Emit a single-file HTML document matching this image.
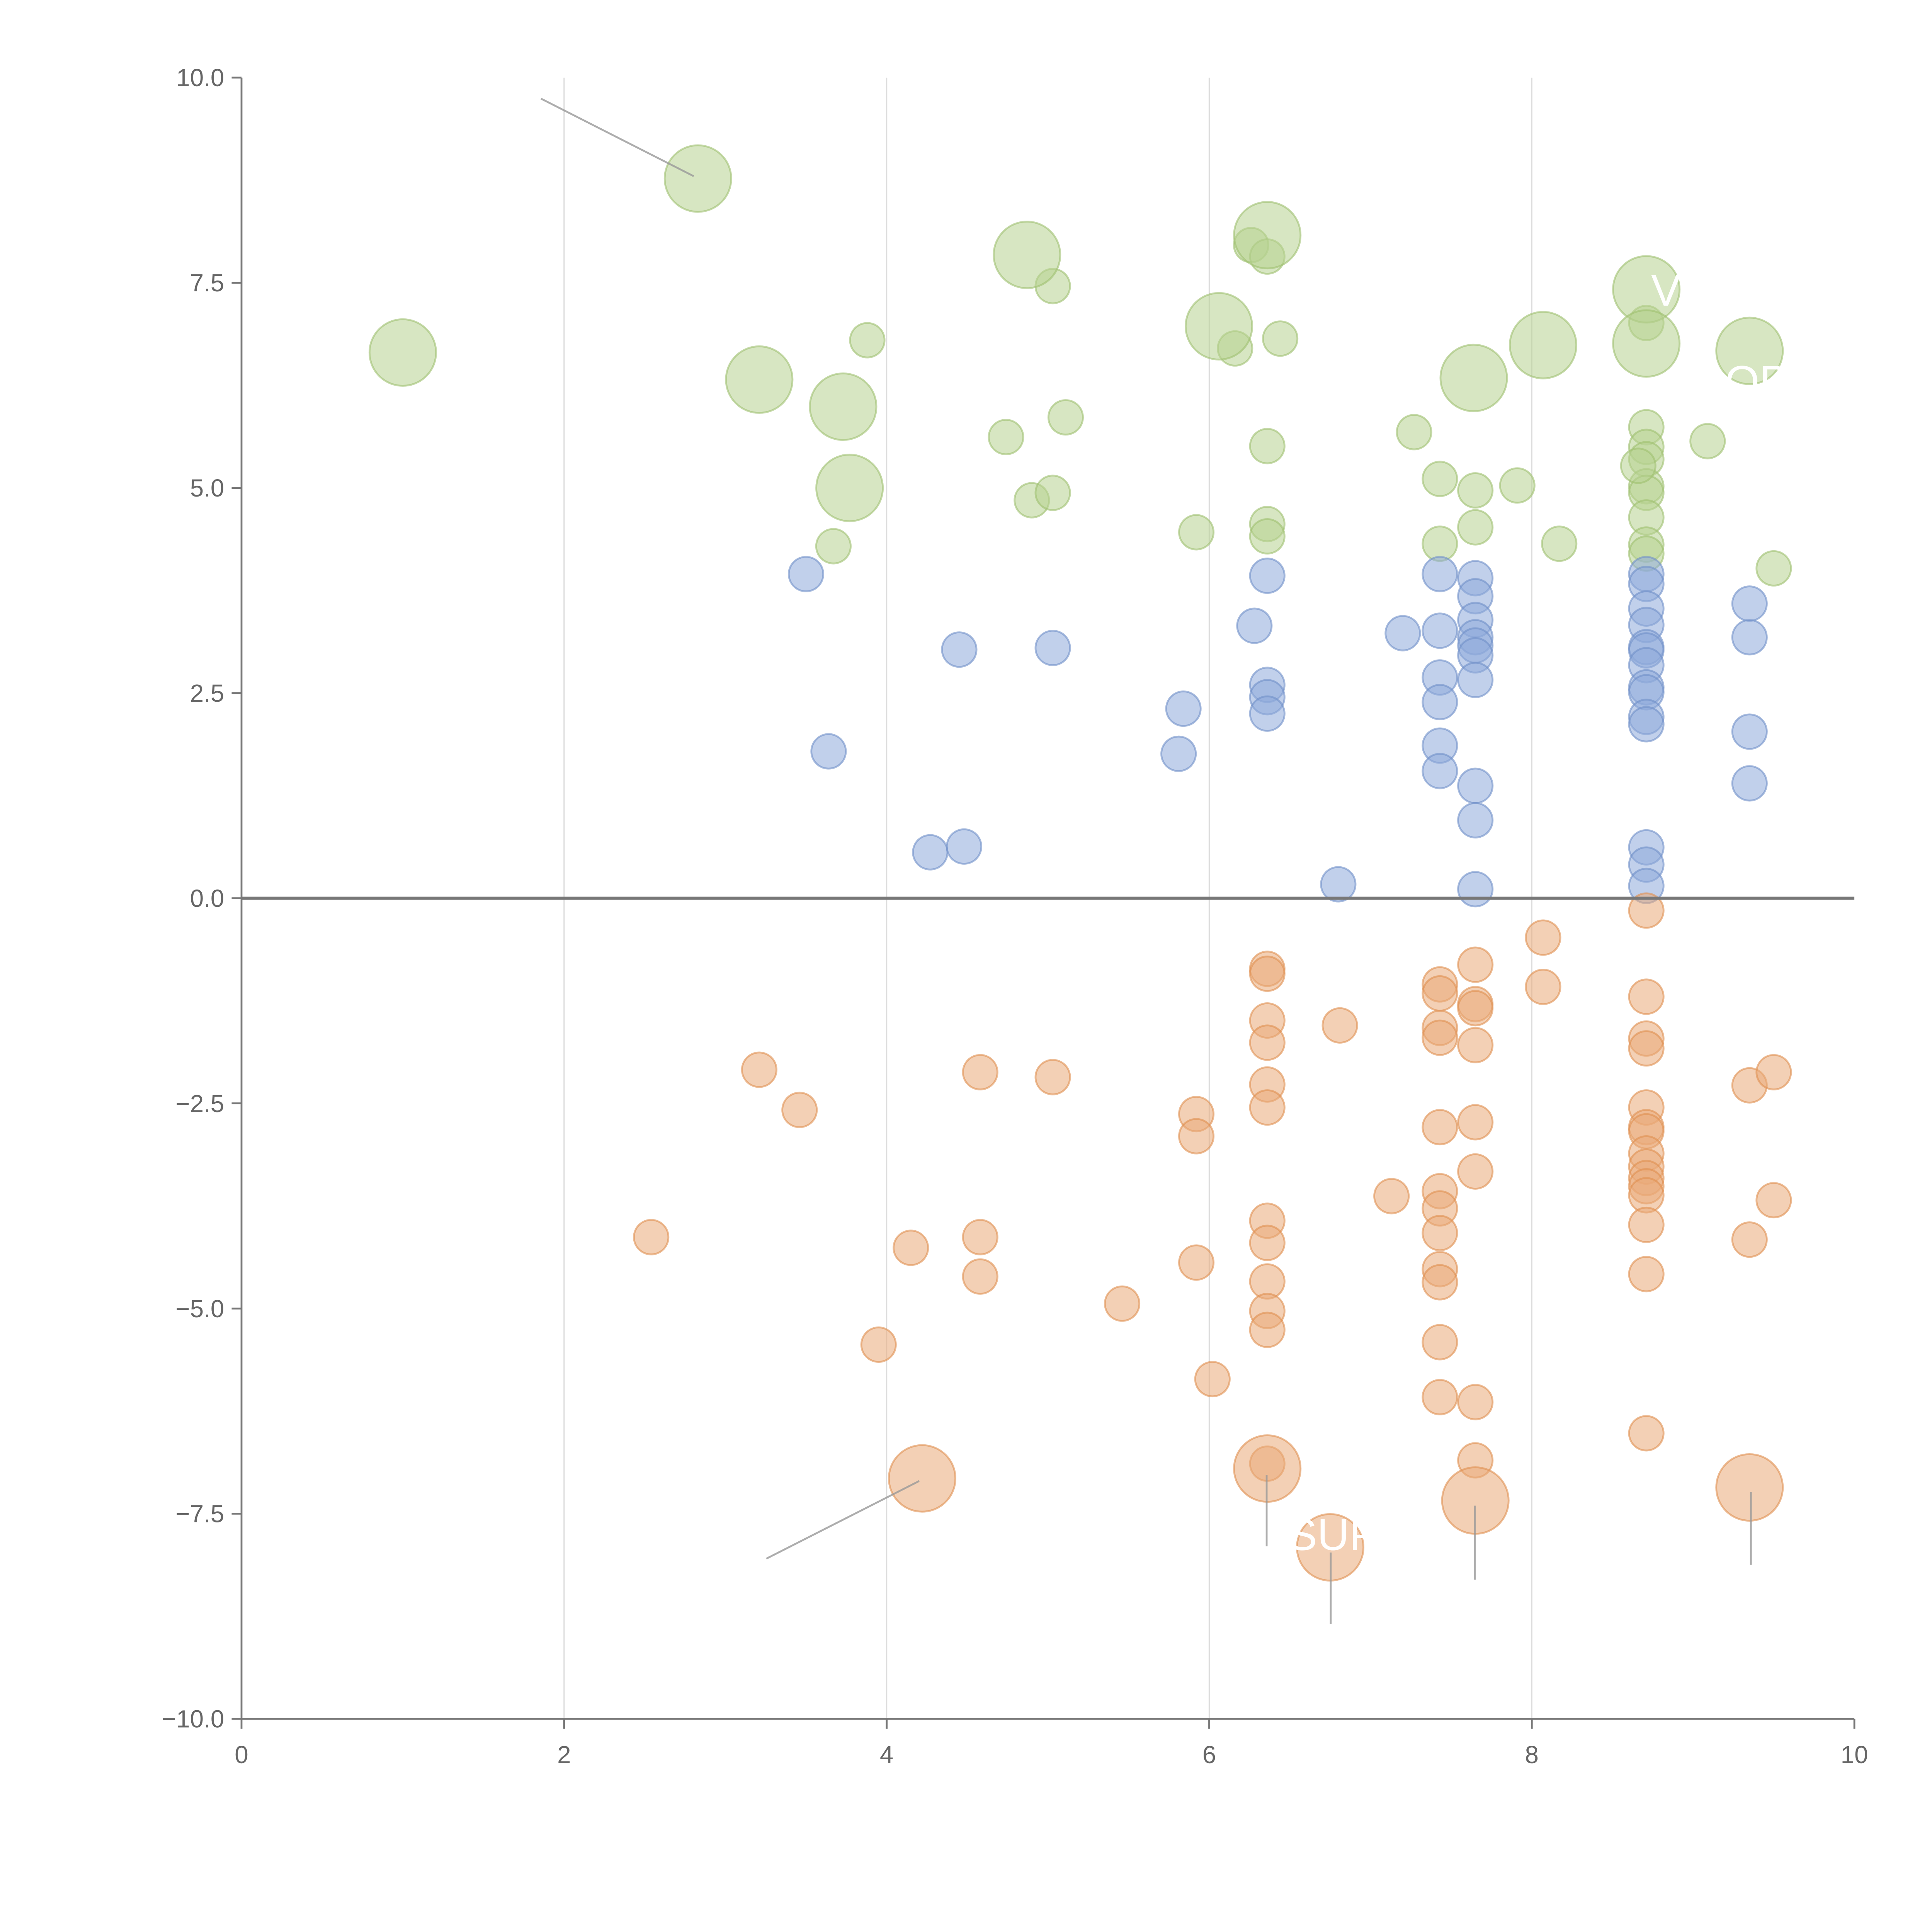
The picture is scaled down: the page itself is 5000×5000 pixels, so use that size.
<!DOCTYPE html>
<html><head><meta charset="utf-8"><style>
html,body{margin:0;padding:0;background:#fff;}
svg{display:block;font-family:"Liberation Sans",Arial,sans-serif;}
</style></head><body>
<svg id="chart" width="5000" height="5000" viewBox="0 0 1568 1568" xmlns="http://www.w3.org/2000/svg">
<g id="grid"></g>
<g id="marks"></g>
<g id="axes"></g>
</svg>
<script>
const xTicks=[0,2,4,6,8,10];
const yTicks=[10,7.5,5,2.5,0,-2.5,-5,-7.5,-10];
const yTickLabels=["10.0","7.5","5.0","2.5","0.0","\u22122.5","\u22125.0","\u22127.5","\u221210.0"];
const greenX=[3.67,3.88,4.74,4.90,5.03,5.03,5.11,5.92,6.16,6.26,6.36,6.36,6.36,6.36,6.44,7.27,7.43,7.43,7.65,7.65,7.91,8.17,8.71,8.71,8.71,8.71,8.71,8.71,8.71,8.71,8.71,8.66,9.09,9.50];
const greenY=[4.29,6.80,5.62,4.85,4.94,7.46,5.86,4.46,6.70,7.96,7.82,5.51,4.56,4.41,6.82,5.68,5.11,4.32,4.97,4.52,5.03,4.32,5.74,5.50,5.35,5.02,4.94,4.64,4.31,4.20,7.01,5.27,5.57,4.02];
const greenBigX=[2.83,1.00,3.21,3.73,3.77,4.87,6.06,6.36,7.64,8.07,8.71,8.71,9.35];
const greenBigY=[8.77,6.65,6.32,5.99,5.00,7.84,6.97,8.08,6.34,6.74,7.42,6.76,6.67];
const blueX=[3.50,3.64,4.27,4.45,4.48,5.03,5.81,5.84,6.28,6.36,6.36,6.36,6.36,6.80,7.20,7.43,7.43,7.43,7.43,7.43,7.43,7.65,7.65,7.65,7.65,7.65,7.65,7.65,7.65,7.65,7.65,8.71,8.71,8.71,8.71,8.71,8.71,8.71,8.71,8.71,8.71,8.71,8.71,8.71,8.71,9.35,9.35,9.35,9.35];
const blueY=[3.95,1.79,0.56,3.03,0.63,3.05,1.76,2.31,3.32,3.93,2.60,2.45,2.25,0.17,3.23,3.95,3.26,2.69,2.39,1.86,1.55,3.90,3.68,3.39,3.18,3.08,2.96,2.66,1.37,0.95,0.11,3.95,3.83,3.53,3.33,3.06,3.02,2.84,2.57,2.51,2.21,2.12,0.62,0.41,0.15,3.59,3.18,2.03,1.40];
const orangeX=[2.54,3.21,3.46,3.95,4.15,4.58,4.58,4.58,5.03,5.46,5.92,5.92,5.92,6.02,6.36,6.36,6.36,6.36,6.36,6.36,6.36,6.36,6.36,6.36,6.36,6.36,6.81,7.13,7.43,7.43,7.43,7.43,7.43,7.43,7.43,7.43,7.43,7.43,7.43,7.43,7.65,7.65,7.65,7.65,7.65,7.65,7.65,7.65,8.07,8.07,8.71,8.71,8.71,8.71,8.71,8.71,8.71,8.71,8.71,8.71,8.71,8.71,8.71,8.71,8.71,9.35,9.50,9.50,9.35];
const orangeY=[-4.13,-2.09,-2.58,-5.44,-4.26,-2.12,-4.13,-4.61,-2.18,-4.94,-2.63,-2.90,-4.44,-5.86,-0.86,-0.92,-1.49,-1.76,-2.27,-2.55,-3.93,-4.20,-4.67,-5.03,-5.26,-6.89,-1.55,-3.63,-1.05,-1.16,-1.58,-1.70,-2.79,-3.57,-3.78,-4.08,-4.52,-4.68,-5.41,-6.08,-0.81,-1.29,-1.34,-1.79,-2.73,-3.33,-6.14,-6.85,-0.48,-1.08,-0.15,-1.20,-1.71,-1.83,-2.55,-2.79,-2.84,-3.11,-3.27,-3.41,-3.51,-3.62,-3.98,-4.58,-6.52,-2.28,-2.12,-3.68,-4.16];
const orangeBigX=[4.22,6.36,6.75,7.65,9.35];
const orangeBigY=[-7.07,-6.95,-7.91,-7.34,-7.18];

const NS="http://www.w3.org/2000/svg";
const X0=196,X1=1505,Y0=1395,Y1=63;
function sx(v){return X0+(v-0)/(10-0)*(X1-X0);}
function sy(v){return Y0-(v+10)/20*(Y0-Y1);}
function mk(tag,attrs,parent){const e=document.createElementNS(NS,tag);for(const k in attrs)e.setAttribute(k,attrs[k]);parent.appendChild(e);return e;}
const grid=document.getElementById('grid'),marks=document.getElementById('marks'),axes=document.getElementById('axes');
[2,4,6,8].forEach(v=>{
  const l=mk('line',{x1:sx(v),x2:sx(v),y1:Y1,y2:Y0,stroke:'#dddddd','stroke-width':1},grid);
  
  
});
function series(xs,ys,r,fill,stroke,name){
  xs.forEach((x,i)=>{
    const c=mk('circle',{cx:sx(x),cy:sy(ys[i]),r:r,fill:fill,'fill-opacity':0.55,stroke:stroke,'stroke-opacity':0.6,'stroke-width':1.5},marks);
    
    
  });
}
series(greenX,greenY,14,'#b7d18f','#9fbf6f','green-bubble');
series(greenBigX,greenBigY,27,'#b7d18f','#9fbf6f','green-large-bubble');
series(blueX,blueY,14,'#8eaadb','#6f90c8','blue-bubble');
series(orangeX,orangeY,14,'#eaaa78','#e08f50','orange-bubble');
series(orangeBigX,orangeBigY,27,'#eaaa78','#e08f50','orange-large-bubble');
[[439,80,563,143],[622,1265,746,1202],[1028,1197,1028,1255],[1080,1260,1080,1318],[1197,1222,1197,1282],[1421,1211,1421,1270]].forEach(p=>{
  const l=mk('line',{x1:p[0],y1:p[1],x2:p[2],y2:p[3],stroke:'#999','stroke-width':1.5,'stroke-opacity':0.8},marks);
  
  
});
[["SUP",1045,1258],["V",1340,248],["OP",1400,322]].forEach(t=>{
  const e=mk('text',{x:t[1],y:t[2],fill:'#ffffff','font-size':36},marks);
  e.textContent=t[0];
  
  
});
const z=mk('line',{x1:X0,x2:X1,y1:sy(0),y2:sy(0),stroke:'#777','stroke-width':2.5},axes);


const ya=mk('line',{x1:X0,x2:X0,y1:Y1,y2:Y0,stroke:'#777','stroke-width':1.5},axes);


const xa=mk('line',{x1:X0,x2:X1,y1:Y0,y2:Y0,stroke:'#777','stroke-width':1.5},axes);


yTicks.forEach((v,i)=>{
  const t=mk('line',{x1:X0-8,x2:X0,y1:sy(v),y2:sy(v),stroke:'#777','stroke-width':1.5},axes);
  
  
  const l=mk('text',{x:X0-14,y:sy(v)+7,'text-anchor':'end','font-size':20,fill:'#666'},axes);
  l.textContent=yTickLabels[i];
  
  
});
xTicks.forEach(v=>{
  const t=mk('line',{x1:sx(v),x2:sx(v),y1:Y0,y2:Y0+8,stroke:'#777','stroke-width':1.5},axes);
  
  
  const l=mk('text',{x:sx(v),y:Y0+36,'text-anchor':'middle','font-size':20,fill:'#666'},axes);
  l.textContent=String(v);
  
  
});
</script>
</body></html>
